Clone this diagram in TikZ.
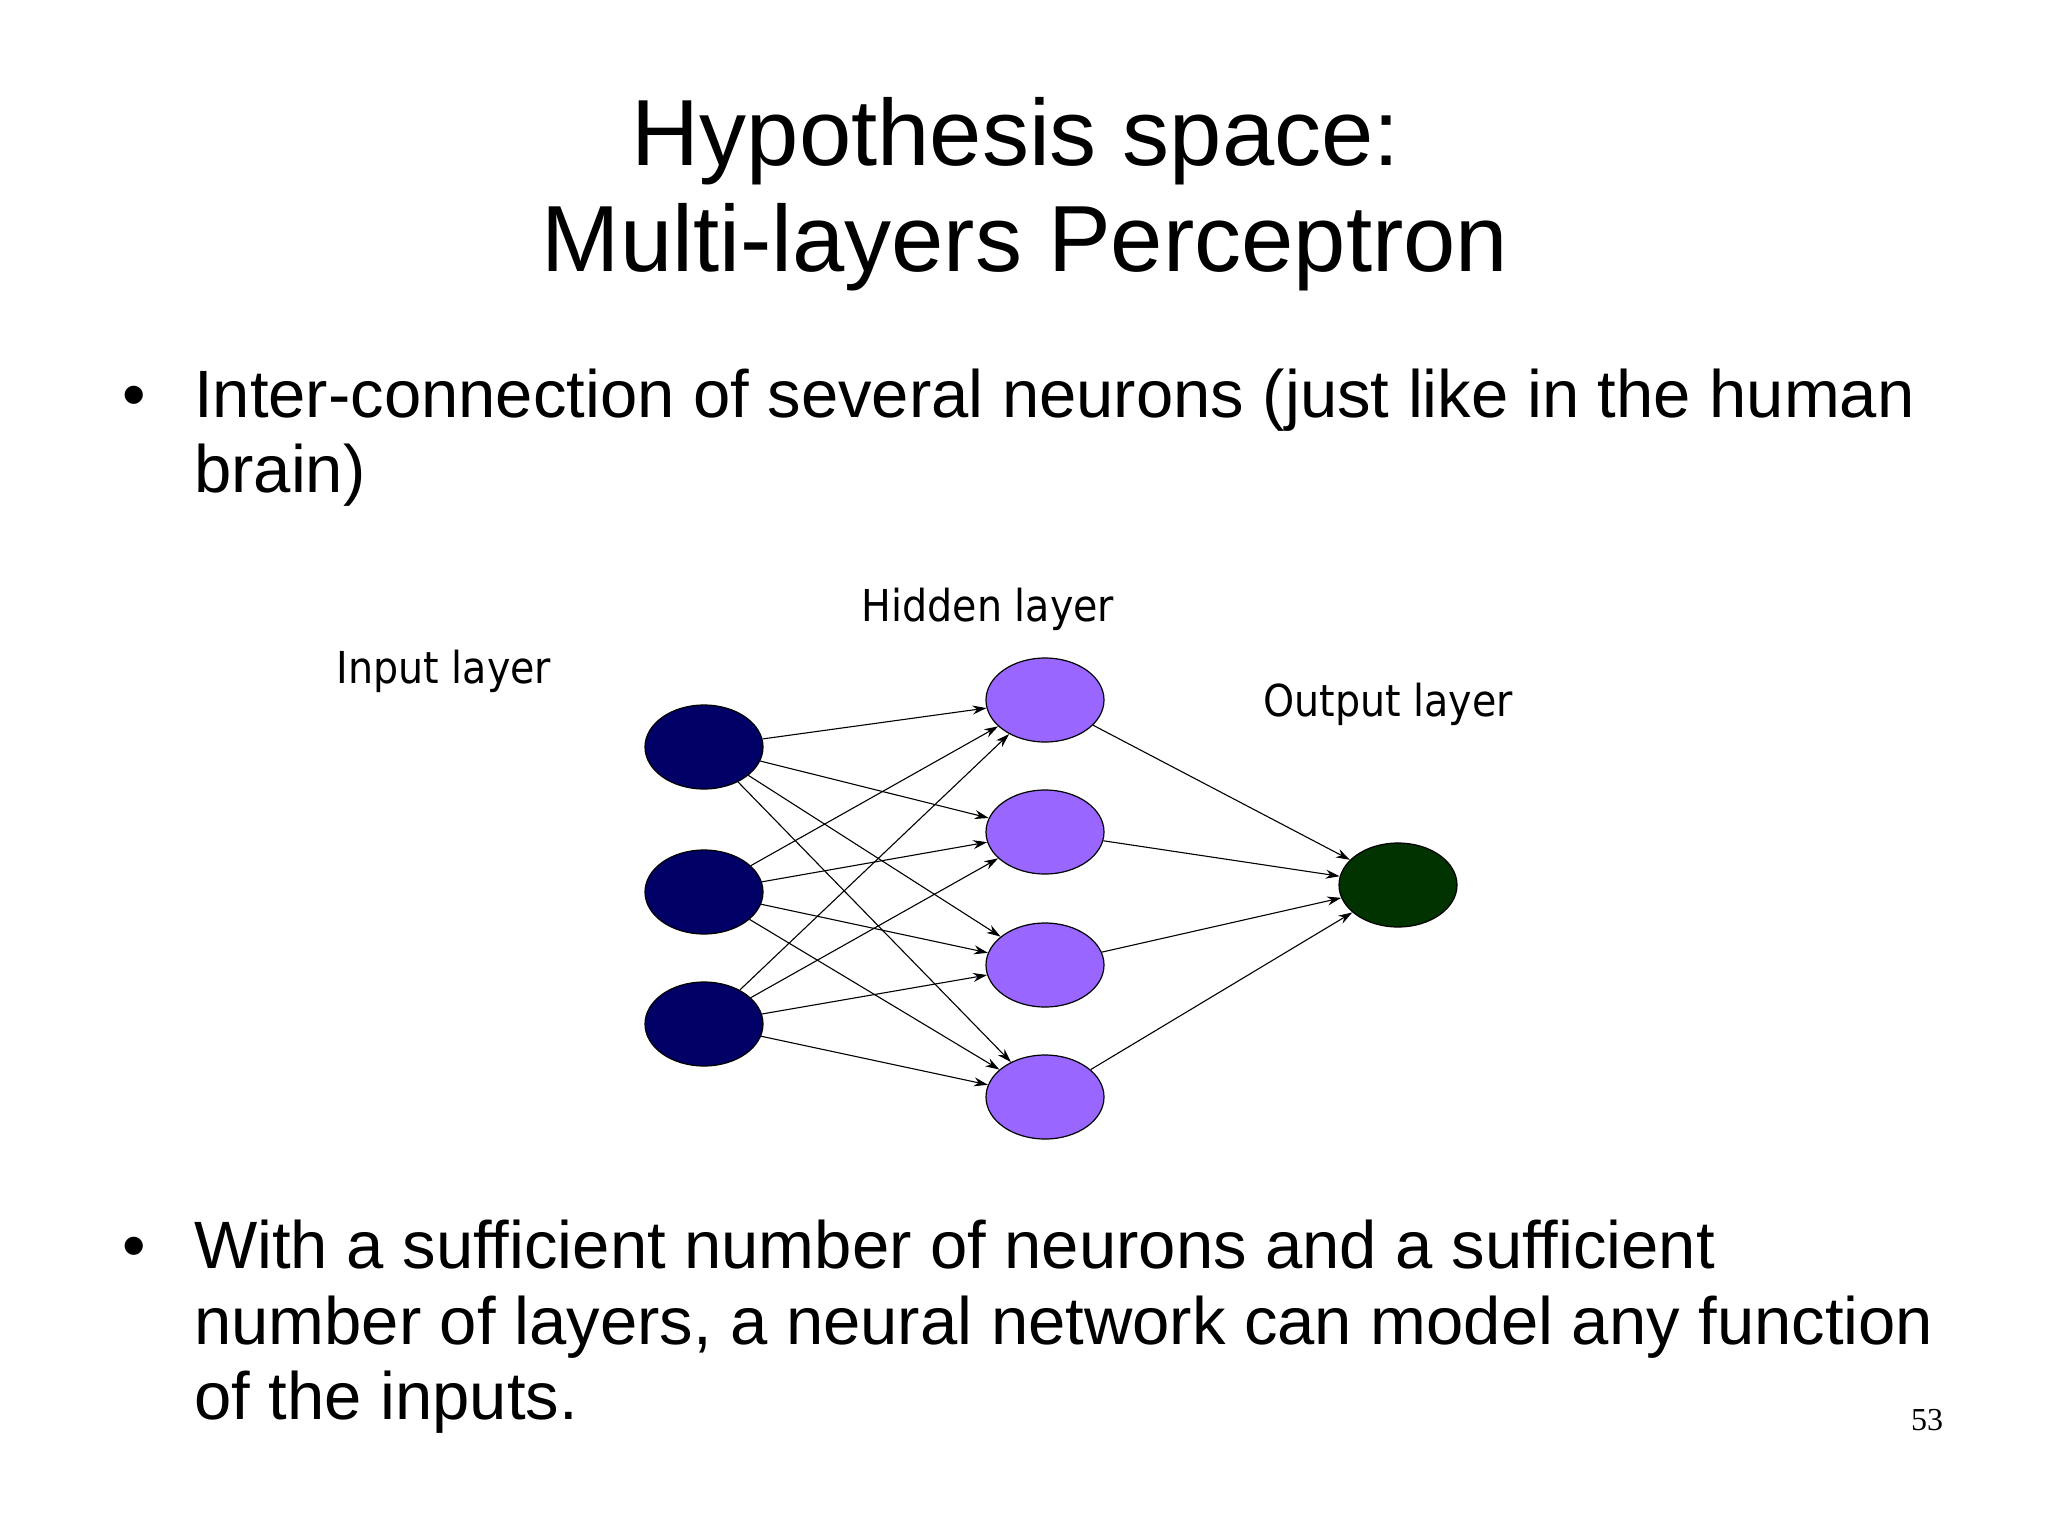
\documentclass[tikz,border=0pt]{standalone}
\usepackage{fontspec}
\setmainfont{Liberation Sans}
\newfontfamily\lbl{DejaVu Sans Condensed}
\newfontfamily\pnum{Liberation Serif}
\usetikzlibrary{arrows.meta,shapes.geometric}
\begin{document}
\begin{tikzpicture}[x=1pt,y=-1pt,
  neu/.style={ellipse,draw=black,line width=1.2pt,minimum width=118pt,minimum height=84pt,inner sep=0pt},
  inp/.style={neu,fill=inlay},
  hid/.style={neu,fill=hidlay},
  outn/.style={neu,fill=outlay},
  edge/.style={-{Stealth[length=14pt,width=9pt]},line width=1.1pt},
  lab/.style={font=\lbl\fontsize{44}{52}\selectfont,anchor=base},
  body/.style={font=\fontsize{67}{75}\selectfont,anchor=base west,inner sep=0pt}]
\definecolor{inlay}{HTML}{000066}
\definecolor{hidlay}{HTML}{9966FF}
\definecolor{outlay}{HTML}{003300}
\useasboundingbox[fill=white] (0,0) rectangle (2048,1535);
\node[font=\fontsize{94}{100}\selectfont,anchor=base] (t1) at (1016,165) {Hypothesis space:};
\node[font=\fontsize{94}{100}\selectfont,anchor=base] (t2) at (1025,271) {Multi-layers Perceptron};
\node[body] (b1a) at (122,417) {•};
\node[body] (b1) at (194,417) {Inter-connection of several neurons (just like in the human};
\node[body] (b1b) at (194,492) {brain)};
\node[body] (b2a) at (122,1268) {•};
\node[body] (b2) at (194,1268) {With a sufficient number of neurons and a sufficient};
\node[body] (b2b) at (194,1344) {number of layers, a neural network can model any function};
\node[body] (b2c) at (194,1419) {of the inputs.};
\node[font=\pnum\fontsize{32}{36}\selectfont,anchor=base] (pg) at (1927,1430) {53};
\node[lab] (li) at (444,683) {Input layer};
\node[lab] (lh) at (988,621) {Hidden layer};
\node[lab] (lo) at (1388,716) {Output layer};
\node[inp] (i1) at (704,747) {};
\node[inp] (i2) at (704,892) {};
\node[inp] (i3) at (704,1024) {};
\node[hid] (h1) at (1045,700) {};
\node[hid] (h2) at (1045,832) {};
\node[hid] (h3) at (1045,965) {};
\node[hid] (h4) at (1045,1097) {};
\node[outn] (o) at (1398,885) {};
\foreach \i in {1,2,3}{\foreach \h in {1,2,3,4}{\draw[edge] (i\i) -- (h\h);}}
\foreach \h in {1,2,3,4}{\draw[edge] (h\h) -- (o);}
\end{tikzpicture}
\end{document}
